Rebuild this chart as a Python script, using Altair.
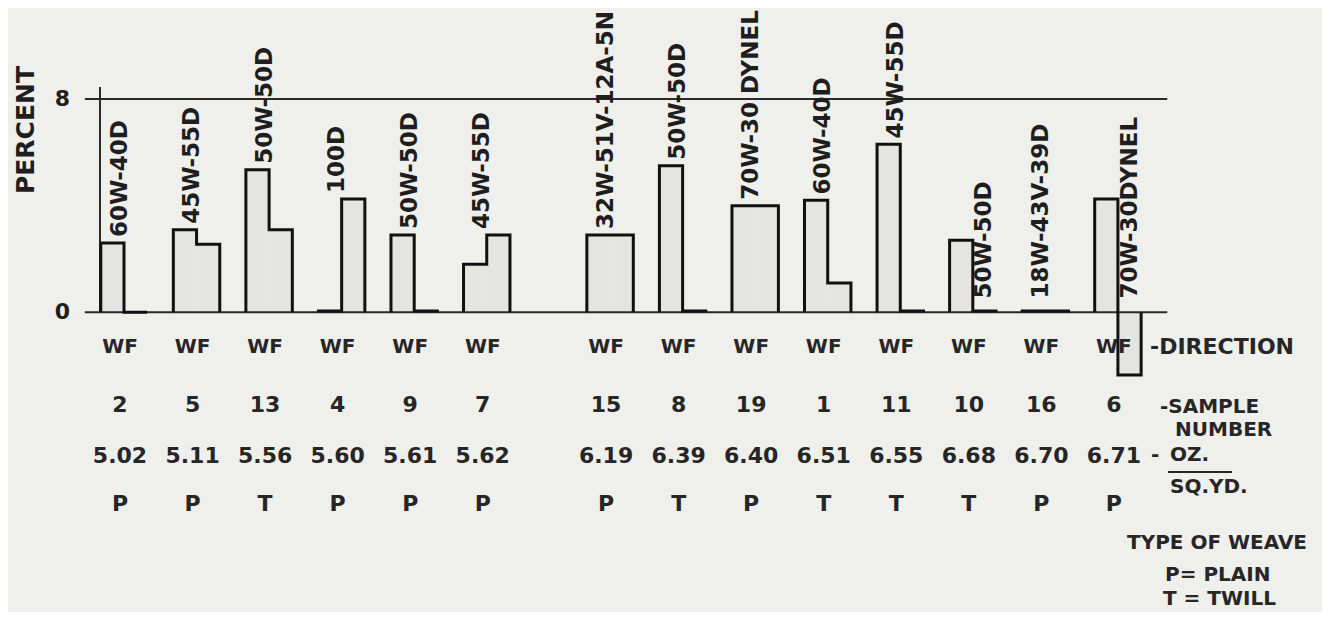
import altair as alt
import pandas as pd

# ---------------- data ----------------
samples = [2, 5, 13, 4, 9, 7, 15, 8, 19, 1, 11, 10, 16, 6]
blends = ["60W-40D", "45W-55D", "50W-50D", "100D", "50W-50D", "45W-55D",
          "32W-51V-12A-5N", "50W-50D", "70W-30 DYNEL", "60W-40D", "45W-55D",
          "50W-50D", "18W-43V-39D", "70W-30DYNEL"]
warp_pct = [2.6, 3.1, 5.35, 0.05, 2.9, 1.8, 2.9, 5.5, 4.0, 4.2, 6.3, 2.7, 0.05, 4.25]
fill_pct = [0.0, 2.55, 3.1, 4.25, 0.05, 2.9, 2.9, 0.05, 4.0, 1.1, 0.05, 0.05, 0.05, -2.35]
oz_sqyd = ["5.02", "5.11", "5.56", "5.60", "5.61", "5.62", "6.19", "6.39",
           "6.40", "6.51", "6.55", "6.68", "6.70", "6.71"]
weave = ["P", "P", "T", "P", "P", "P", "P", "T", "P", "T", "T", "T", "P", "P"]
direction = ["WF"] * len(samples)
y_ticks = [0, 8]
side_label_samples = [10, 6]   # blend written beside the bar, not above it

# ---------------- layout constants ----------------
W, H = 1314, 604
GAP_AFTER, GAP = 6, 0.7
HALF = 0.32
FONT = "DejaVu Sans"
INK = "#1e1e1e"
TXT = "#262626"
xs = alt.Scale(domain=[-1.599, 16.513], nice=False, zero=False)
ys = alt.Scale(domain=[-11.242, 11.414], nice=False, zero=False)

pos = [i + (GAP if i >= GAP_AFTER else 0) for i in range(len(samples))]

groups = pd.DataFrame({
    "pos": pos, "sample": samples, "blend": blends, "w": warp_pct, "f": fill_pct,
    "oz": oz_sqyd, "weave": weave, "dir": direction,
})

bar_rows = []
for p, w, f in zip(pos, warp_pct, fill_pct):
    bar_rows.append({"x0": p - HALF, "x1": p, "v": w})
    bar_rows.append({"x0": p, "x1": p + HALF, "v": f})
bars = pd.DataFrame(bar_rows)

out_rows = []
for g, (p, w, f) in enumerate(zip(pos, warp_pct, fill_pct)):
    pts = [(p - HALF, 0), (p - HALF, w), (p, w), (p, f), (p + HALF, f), (p + HALF, 0)]
    for k, (x, y) in enumerate(pts):
        out_rows.append({"g": g, "k": k, "x": x, "y": y})
outline = pd.DataFrame(out_rows)

lab_rows = []
for p, w, f, s, b in zip(pos, warp_pct, fill_pct, samples, blends):
    if s in side_label_samples:
        lab_rows.append({"x": p + 0.16, "y": 0.52, "blend": b})
    else:
        lab_rows.append({"x": p - 0.06, "y": max(w, f, 0.3) + 0.22, "blend": b})
labels = pd.DataFrame(lab_rows)

ticks = pd.DataFrame({"value": y_ticks, "label": [str(t) for t in y_ticks]})

# ---------------- layers ----------------
fills = alt.Chart(bars).mark_rect(fill="#e4e4e1").encode(
    x=alt.X("x0:Q", scale=xs, axis=None), x2="x1:Q",
    y=alt.Y("v:Q", scale=ys, axis=None), y2=alt.datum(0),
)

hlines = alt.Chart(ticks).mark_rule(color="#2a2a2a", strokeWidth=2).encode(
    x=alt.X(datum=-0.54, scale=xs, axis=None), x2=alt.datum(14.38),
    y=alt.Y("value:Q", scale=ys, axis=None),
)

tick_labels = alt.Chart(ticks).mark_text(
    align="right", baseline="middle", font=FONT, fontSize=22,
    fontWeight="bold", color=INK,
).encode(
    x=alt.value(62),
    y=alt.Y("value:Q", scale=ys, axis=None),
    text="label:N",
)

y_title = alt.Chart(pd.DataFrame({"t": ["PERCENT"]})).mark_text(
    angle=270, align="center", baseline="middle", font=FONT, fontSize=25,
    fontWeight="bold", color=INK,
).encode(x=alt.value(18), y=alt.value(122), text="t:N")

vaxis = alt.Chart(ticks.head(1)).mark_rule(color="#2a2a2a", strokeWidth=2).encode(
    x=alt.X(datum=-0.331, scale=xs, axis=None),
    y=alt.Y(datum=0, scale=ys, axis=None), y2=alt.datum(8.45),
)

edges = alt.Chart(outline).mark_line(color="#111111", strokeWidth=3, strokeJoin="miter").encode(
    x=alt.X("x:Q", scale=xs, axis=None),
    y=alt.Y("y:Q", scale=ys, axis=None),
    detail="g:N", order="k:Q",
)

blend_text = alt.Chart(labels).mark_text(
    angle=270, align="left", baseline="middle", font=FONT, fontSize=23,
    fontWeight="bold", color=INK,
).encode(
    x=alt.X("x:Q", scale=xs, axis=None),
    y=alt.Y("y:Q", scale=ys, axis=None),
    text="blend:N",
)


def row(field, ypix, size):
    return alt.Chart(groups).mark_text(
        align="center", baseline="middle", font=FONT, fontSize=size,
        fontWeight="bold", color=TXT, dx=-4,
    ).encode(
        x=alt.X("pos:Q", scale=xs, axis=None),
        y=alt.value(ypix),
        text=field,
    )


rows = [row("dir:N", 339, 20), row("sample:N", 397, 22),
        row("oz:N", 448, 22), row("weave:N", 496, 22)]


def note(text, xpix, ypix, size=21):
    return alt.Chart(pd.DataFrame({"t": [text]})).mark_text(
        align="left", baseline="middle", font=FONT, fontSize=size,
        fontWeight="bold", color=TXT,
    ).encode(x=alt.value(xpix), y=alt.value(ypix), text="t:N")


notes = [
    note("-DIRECTION", 1142, 339, 22),
    note("-SAMPLE", 1152, 399, 20),
    note("NUMBER", 1167, 422, 20),
    note("-", 1143, 447, 20),
    note("OZ.", 1162, 447, 20),
    note("SQ.YD.", 1162, 479, 20),
    note("TYPE OF WEAVE", 1119, 535, 20),
    note("P= PLAIN", 1157, 567, 20),
    note("T = TWILL", 1155, 591, 20),
]

frac = alt.Chart(pd.DataFrame({"t": [0]})).mark_rule(color=TXT, strokeWidth=2).encode(
    x=alt.value(1160), x2=alt.value(1224), y=alt.value(464),
)

chart = alt.layer(
    fills, hlines, vaxis, edges, tick_labels, y_title, blend_text, *rows, *notes, frac,
).properties(
    width=W, height=H, padding=0,
    autosize=alt.AutoSizeParams(type="none"),
    background="#efefec",
).configure_view(stroke=None)

chart.save("out.html", embed_options={"renderer": "svg", "actions": False})
